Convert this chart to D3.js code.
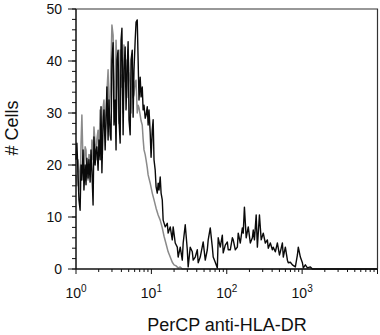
<!DOCTYPE html>
<html><head><meta charset="utf-8">
<script src="https://cdn.jsdelivr.net/npm/d3@7"></script>
<style>
html,body{margin:0;padding:0;background:#fff;}
text{font-family:"Liberation Sans",Arial,Helvetica,sans-serif;fill:#111;}
</style></head>
<body>
<svg id="c" width="380" height="335"></svg>
<script>
// Histogram channels (0-1023 over 4 decades) and cell counts
const blackCh = [0,3,7,10,14,17,20,24,27,31,34,37,41,44,48,51,54,58,61,65,68,71,75,78,82,85,88,92,95,99,102,105,109,112,116,119,122,126,129,133,136,139,143,146,150,153,156,160,163,167,170,173,177,180,184,187,191,194,197,201,204,208,211,214,218,221,225,228,231,235,238,242,245,248,252,255,259,262,265,269,272,276,279,282,286,289,293,296,303,310,313,320,327,330,337,344,347,354,361,364,371,378,381,388,395,398,405,412,415,422,432,439,446,449,456,463,466,473,480,483,490,497,500,507,514,517,524,531,534,541,548,551,558,565,568,572,578,585,592,599,602,606,612,616,623,629,636,643,650,653,660,667,670,677,684,691,694,701,704,711,718,721,728,735,745,752,755,762,769,772,779,786,796,803,1023];
const blackCount = [21.0,24.2,18.1,13.3,11.3,20.0,17.1,22.9,15.2,20.0,16.2,21.3,17.5,21.0,16.7,22.9,19.0,12.3,25.4,20.0,22.9,23.5,19.0,24.8,21.0,31.2,18.5,27.7,30.6,22.9,28.7,35.0,24.8,32.5,25.8,24.8,40.2,43.5,27.7,32.5,22.9,40.2,42.1,28.7,24.2,44.0,46.3,25.8,38.3,42.7,30.6,37.3,43.7,28.7,25.8,40.2,42.1,29.2,38.3,44.0,47.5,47.9,40.2,32.5,36.9,33.1,35.0,30.6,31.5,29.0,29.6,31.2,27.7,30.6,26.2,21.5,26.7,28.7,21.0,19.0,15.8,14.6,16.5,15.2,17.7,14.6,13.3,9.4,8.1,8.8,6.9,8.1,5.6,8.1,5.0,4.2,2.3,4.2,1.7,5.0,8.5,3.7,0.4,4.2,3.3,1.7,2.3,3.7,1.2,2.3,5.2,1.7,3.7,5.6,7.9,4.2,2.3,1.3,0.2,6.0,4.2,6.5,3.1,4.6,5.2,3.7,3.7,6.0,5.6,3.7,4.2,6.9,5.0,7.9,6.9,11.9,6.0,8.1,5.0,6.0,7.5,5.6,10.4,4.2,10.4,5.6,6.9,5.0,5.6,4.0,5.0,3.7,4.2,3.3,5.0,2.7,3.3,5.0,2.3,4.2,1.7,1.2,1.3,0.8,0.4,2.7,4.2,2.3,1.2,0.2,0.8,0.2,0.4,0,0];
const grayCh = [0,3,7,10,14,17,20,24,27,31,34,37,41,44,48,51,54,58,61,65,68,71,75,78,82,85,88,92,95,99,102,105,109,112,116,119,122,126,129,133,136,139,143,146,150,153,156,160,163,167,170,173,177,180,184,187,191,194,197,201,204,208,211,214,218,221,225,228,231,235,238,242,245,252,259,265,272,279,286,293,299,306,313,320,327,333,340,347,354,361,1023];
const grayCount = [18.1,16.0,21.0,19.0,15.2,24.0,29.6,20.0,19.0,23.5,22.9,18.0,17.1,22.0,21.9,19.0,24.8,21.0,27.3,24.0,21.0,25.0,26.7,22.0,30.6,26.0,24.8,31.0,32.5,26.0,28.7,34.0,38.3,29.0,33.5,40.0,46.9,45.0,36.3,30.0,44.0,38.0,34.4,28.0,42.1,35.0,37.3,30.0,43.1,36.0,40.2,33.0,42.1,38.0,35.4,30.0,39.2,33.0,33.5,36.0,36.3,30.0,31.5,31.0,29.6,28.5,27.7,25.0,22.9,22.0,21.0,19.5,18.1,16.5,14.6,13.3,11.7,10.4,9.4,7.9,6.3,4.8,3.3,2.3,1.3,0.8,0.6,0.2,0.4,0,0];
const yTicks = [0,10,20,30,40,50];
const xDecades = [0,1,2,3,4];
const xLabel = "PerCP anti-HLA-DR";
const yLabel = "# Cells";

const svg = d3.select("#c");
const L=76, R=377.5, T=9, B=269;
const x = d3.scaleLog().domain([1,1e4]).range([L,R]);
const y = d3.scaleLinear().domain([0,50]).range([B,T]);
const chToVal = c => Math.pow(10, c/256);

// frame
svg.append("path").attr("d",`M${L},${T}H${R}V${B}`).attr("fill","none").attr("stroke","#333").attr("stroke-width",1.2);

// lines
const line = d3.line().x(d=>x(chToVal(d[0]))).y(d=>y(d[1]));
svg.append("path").datum(d3.zip(grayCh,grayCount)).attr("d",line)
  .attr("fill","none").attr("stroke","#8a8a8a").attr("stroke-width",1.5).attr("stroke-linejoin","round");
svg.append("path").datum(d3.zip(blackCh,blackCount)).attr("d",line)
  .attr("fill","none").attr("stroke","#0a0a0a").attr("stroke-width",1.4).attr("stroke-linejoin","round");

// y axis
const yMinor = d3.range(0,51,2);
const gy = svg.append("g");
gy.append("line").attr("x1",L).attr("x2",L).attr("y1",T).attr("y2",B).attr("stroke","#111").attr("stroke-width",1.5);
gy.selectAll(".mn").data(yMinor).join("line").attr("x1",L-4).attr("x2",L).attr("y1",d=>y(d)).attr("y2",d=>y(d)).attr("stroke","#111");
gy.selectAll(".mj").data(yTicks).join("line").attr("x1",L-8).attr("x2",L).attr("y1",d=>y(d)).attr("y2",d=>y(d)).attr("stroke","#111");
gy.selectAll("text").data(yTicks).join("text").attr("x",L-14).attr("y",d=>y(d)).attr("dy","0.35em")
  .attr("text-anchor","end").attr("font-size",14).text(d=>d);

// x axis
const gx = svg.append("g");
gx.append("line").attr("x1",L).attr("x2",R).attr("y1",B).attr("y2",B).attr("stroke","#111").attr("stroke-width",1.5);
const minor = [];
xDecades.slice(0,4).forEach(e=>{for(let m=2;m<=9;m++) minor.push(m*Math.pow(10,e));});
gx.selectAll(".mn").data(minor).join("line").attr("x1",d=>x(d)).attr("x2",d=>x(d)).attr("y1",B).attr("y2",B+3).attr("stroke","#111");
gx.selectAll(".mj").data(xDecades).join("line").attr("x1",d=>x(Math.pow(10,d))).attr("x2",d=>x(Math.pow(10,d))).attr("y1",B).attr("y2",B+5).attr("stroke","#111");
const tl = gx.selectAll("text").data(xDecades.slice(0,4)).join("text")
  .attr("x",d=>x(Math.pow(10,d))).attr("y",298).attr("text-anchor","middle").attr("font-size",14);
tl.append("tspan").text("10");
tl.append("tspan").attr("font-size",10).attr("dy",-6).text(d=>d);

// axis titles
svg.append("text").attr("x",227).attr("y",331).attr("text-anchor","middle").attr("font-size",18).text(xLabel);
svg.append("text").attr("transform","translate(18,128) rotate(-90)").attr("text-anchor","middle").attr("font-size",18).text(yLabel);
</script>
</body></html>
